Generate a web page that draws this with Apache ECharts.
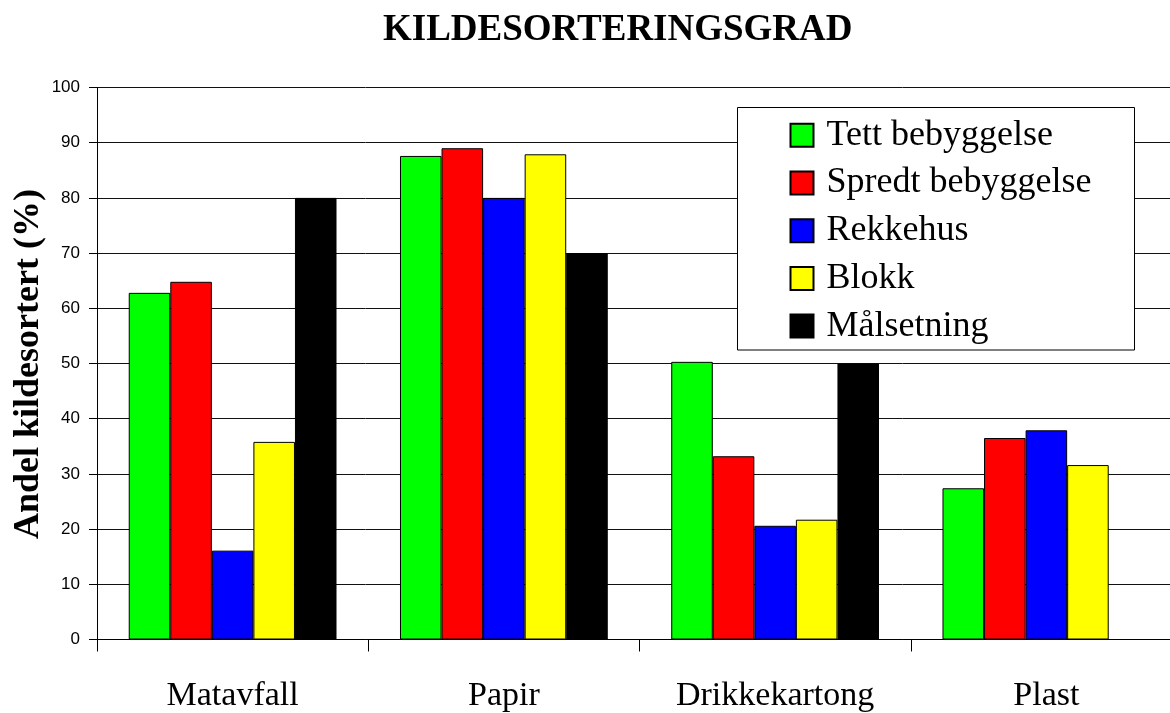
<!DOCTYPE html>
<html>
<head>
<meta charset="utf-8">
<script src="https://cdn.jsdelivr.net/npm/echarts@6/dist/echarts.min.js"></script>
<style>html,body{margin:0;padding:0;background:#fff}#c{width:1170px;height:713px}</style>
</head>
<body>
<div id="c"></div>
<script>
const categories = ['Matavfall', 'Papir', 'Drikkekartong', 'Plast'];
const seriesNames = ['Tett bebyggelse', 'Spredt bebyggelse', 'Rekkehus', 'Blokk', 'Målsetning'];
const tett = [62.8, 87.6, 50.3, 27.4];
const spredt = [64.8, 89.0, 33.2, 36.5];
const rekkehus = [16.1, 80.0, 20.6, 37.9];
const blokk = [35.8, 87.9, 21.7, 31.6];
const malsetning = [80, 70, 50, null];
const colors = ['#00FF00', '#FF0000', '#0000FF', '#FFFF00', '#000000'];
const allData = [tett, spredt, rekkehus, blokk, malsetning];
const yAxisTitle = 'Andel kildesortert (%)';

const serif = '"Liberation Serif", "Times New Roman", serif';
const chart = echarts.init(document.getElementById('c'));
chart.setOption({
  animation: false,
  backgroundColor: '#fff',
  title: {
    text: 'KILDESORTERINGSGRAD',
    left: 383, top: 12, padding: 0,
    textStyle: { fontFamily: serif, fontSize: 37, fontWeight: 'bold', color: '#000' }
  },
  grid: { left: 97, top: 87.5, width: 1085, height: 552, containLabel: false, outerBoundsMode: 'none' },
  legend: {
    orient: 'vertical', left: 789.5, top: 117.3, padding: 0, z: 20,
    icon: 'rect', itemWidth: 23, itemHeight: 23, itemGap: 11.7,
    textStyle: { fontFamily: serif, fontSize: 36, color: '#000', lineHeight: 36, padding: [0, 0, 0, 8] },
    data: seriesNames
  },
  graphic: [{
    type: 'rect', z: 15,
    shape: { x: 737.5, y: 107.5, width: 397, height: 242.5 },
    style: { fill: '#fff', stroke: '#000', lineWidth: 1 }
  }, {
    type: 'text', z: 15,
    x: 29, y: 364, rotation: Math.PI / 2,
    style: {
      text: yAxisTitle, fontFamily: serif, fontSize: 36, fontWeight: 'bold', fill: '#000',
      align: 'center', verticalAlign: 'middle'
    }
  }],
  xAxis: {
    type: 'category', data: categories,
    axisLine: { lineStyle: { color: '#000', width: 1 } },
    axisTick: { show: true, length: 12, interval: 0, lineStyle: { color: '#000' } },
    axisLabel: { fontFamily: serif, fontSize: 34, color: '#000', margin: 40, interval: 0 }
  },
  yAxis: {
    type: 'value', min: 0, max: 100, interval: 10,
    axisLine: { show: true, lineStyle: { color: '#000', width: 1 } },
    axisTick: { show: true, length: 8, lineStyle: { color: '#000' } },
    axisLabel: { fontFamily: '"Liberation Sans", Arial, sans-serif', fontSize: 17, color: '#000', margin: 17 },
    splitLine: { show: true, lineStyle: { color: '#111', width: 1 } }
  },
  series: seriesNames.map((n, i) => ({
    name: n, type: 'bar', data: allData[i],
    barGap: '0%', barCategoryGap: '23.4%',
    itemStyle: { color: colors[i], borderColor: '#000', borderWidth: 1 }
  }))
});
</script>
</body>
</html>
